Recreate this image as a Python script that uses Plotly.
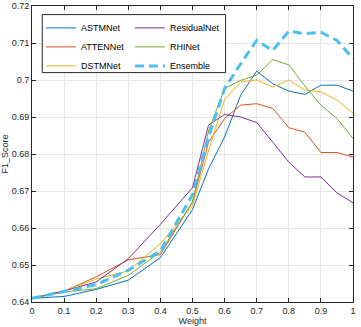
import plotly.graph_objects as go

weights = [0, 0.1, 0.2, 0.3, 0.4, 0.5, 0.55, 0.6, 0.65, 0.7, 0.75, 0.8, 0.85, 0.9, 0.95, 1.0]

astmnet = [0.641, 0.6415, 0.6434, 0.6459, 0.652, 0.665, 0.676, 0.6846, 0.6959, 0.7024, 0.699, 0.697, 0.6961, 0.6986, 0.6986, 0.697]
attennet = [0.641, 0.6429, 0.6468, 0.6514, 0.6528, 0.667, 0.6832, 0.6896, 0.6932, 0.6936, 0.6923, 0.6871, 0.6859, 0.6804, 0.6804, 0.6792]
dstmnet = [0.641, 0.643, 0.6462, 0.6484, 0.6558, 0.666, 0.681, 0.6947, 0.6995, 0.700, 0.6981, 0.700, 0.6973, 0.6968, 0.6946, 0.691]
residualnet = [0.641, 0.643, 0.6454, 0.6517, 0.661, 0.6709, 0.6878, 0.6907, 0.690, 0.6885, 0.6832, 0.6778, 0.6738, 0.6738, 0.6695, 0.6668]
rhinet = [0.641, 0.6427, 0.6436, 0.6472, 0.6535, 0.667, 0.6862, 0.6977, 0.6999, 0.7013, 0.7055, 0.7041, 0.6984, 0.6932, 0.6896, 0.6842]
ensemble = [0.641, 0.6428, 0.6447, 0.6486, 0.6538, 0.669, 0.6846, 0.6977, 0.7044, 0.7107, 0.708, 0.7132, 0.7125, 0.7129, 0.7107, 0.7058]

x_tickvals = [0, 0.1, 0.2, 0.3, 0.4, 0.5, 0.6, 0.7, 0.8, 0.9, 1.0]
x_ticktext = ["0", "0.1", "0.2", "0.3", "0.4", "0.5", "0.6", "0.7", "0.8", "0.9", "1"]
y_tickvals = [0.64, 0.65, 0.66, 0.67, 0.68, 0.69, 0.70, 0.71, 0.72]
y_ticktext = ["0.64", "0.65", "0.66", "0.67", "0.68", "0.69", "0.7", "0.71", "0.72"]

series = [
    ("ASTMNet", astmnet, "#0072BD", "legend", 1),
    ("ATTENNet", attennet, "#D95319", "legend", 2),
    ("DSTMNet", dstmnet, "#EDB120", "legend", 3),
    ("ResidualNet", residualnet, "#7E2F8E", "legend2", 1),
    ("RHINet", rhinet, "#77AC30", "legend2", 2),
]

fig = go.Figure()
for name, vals, color, leg, rank in series:
    fig.add_trace(go.Scatter(x=weights, y=vals, mode="lines", name=name,
                             line=dict(color=color, width=1), legend=leg, legendrank=rank))
fig.add_trace(go.Scatter(x=weights, y=ensemble, mode="lines", name="Ensemble",
                         line=dict(color="#4DBEEE", width=3, dash="9px,5px"),
                         legend="legend2", legendrank=3))

axis_common = dict(showline=True, linecolor="#262626", linewidth=1, mirror="ticks",
                   ticks="inside", ticklen=4, tickcolor="#262626", showgrid=True,
                   gridcolor="#e6e6e6", gridwidth=1, zeroline=False,
                   tickfont=dict(family="Liberation Sans, Arial", size=9, color="#262626"))

fig.update_xaxes(range=[0, 1], tickvals=x_tickvals, ticktext=x_ticktext,
                 title=dict(text="Weight", standoff=2,
                            font=dict(family="Liberation Sans, Arial", size=9, color="#262626")),
                 automargin=False, **axis_common)
fig.update_yaxes(range=[0.64, 0.72], tickvals=y_tickvals, ticktext=y_ticktext,
                 title=dict(text="F1_Score", standoff=1,
                            font=dict(family="Liberation Sans, Arial", size=9, color="#262626")),
                 automargin=False, **axis_common)

legend_font = dict(family="Liberation Sans, Arial", size=9, color="#000000")
fig.update_layout(
    width=361, height=327,
    margin=dict(l=32, r=8, t=6, b=25),
    plot_bgcolor="white", paper_bgcolor="white",
    showlegend=True,
    legend=dict(x=0.028, y=0.975, xanchor="left", yanchor="top", bgcolor="rgba(0,0,0,0)",
                borderwidth=0, font=legend_font, itemwidth=30, traceorder="normal"),
    legend2=dict(x=0.305, y=0.975, xanchor="left", yanchor="top", bgcolor="rgba(0,0,0,0)",
                 borderwidth=0, font=legend_font, itemwidth=30, traceorder="normal"),
    shapes=[dict(type="rect", xref="paper", yref="paper", x0=0.032, x1=0.603, y0=0.775, y1=0.971,
                 line=dict(color="#262626", width=1), fillcolor="white", layer="above")],
)

fig.write_html("out.html", config={"displayModeBar": False},
               post_script="document.body.style.margin='0';document.body.style.overflow='hidden';")
